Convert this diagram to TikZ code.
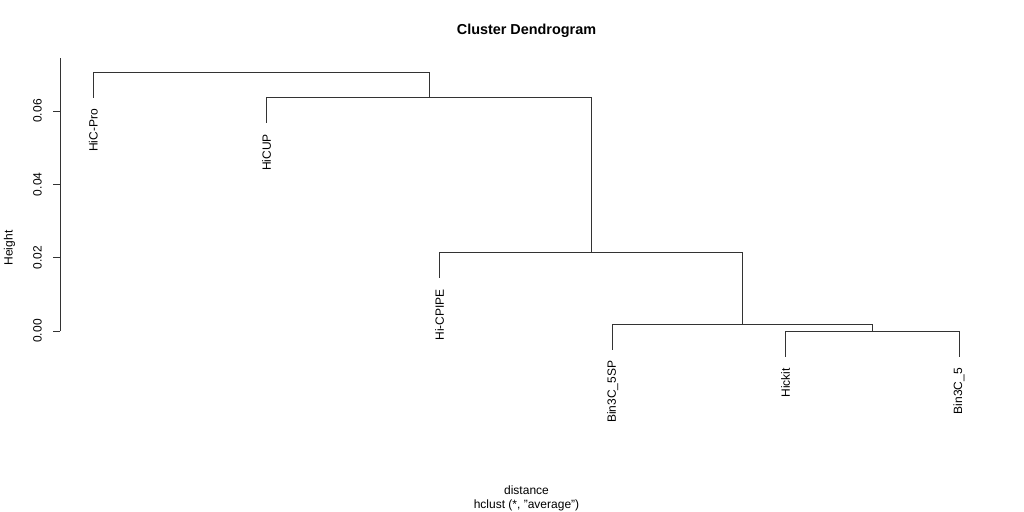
\documentclass[tikz,border=0pt]{standalone}
\usepackage{fontspec}
\setmainfont{Liberation Sans}
\begin{document}
\begin{tikzpicture}[x=1bp,y=-1bp,font=\fontsize{12bp}{14bp}\selectfont,
	branch/.style={black!80,line width=0.8bp},
	leaf/.style={rotate=90,anchor=east,inner sep=0pt},
	ticklab/.style={rotate=90,inner sep=0pt}]
	\useasboundingbox (0,0) rectangle (1024,512);
	\node[anchor=base,font=\fontsize{14.4bp}{17bp}\selectfont\bfseries] (title) at (526.5,35) {Cluster Dendrogram};
	\draw[branch] (60,331)--(60,58.5);
	\foreach \v in {0,2,4,6}
	     		{\draw[branch] (60,331-36.667*\v)--++(-7,0);
	     		\node[ticklab] (tick\v) at (37.5,331-36.667*\v) {0.0\v};}
	\node[ticklab] (ylab) at (9.5,248) {Height};
	\foreach \n/\x/\y/\t in {hicpro/93.4/98/HiC-Pro,hicup/266.7/123/HiCUP,hicpipe/439.7/278/Hi-CPIPE,binsp/612.7/349.6/Bin3C\_5SP,hickit/785.7/357/Hickit,binfive/959/357/Bin3C\_5}
	     		{\coordinate (\n) at (\x,\y);
	     		\node[leaf] (\n-lab) at (\x,\y+11) {\t};}
	\coordinate (m5) at (872.3,331.7);
	\coordinate (m4) at (742.7,324.3);
	\coordinate (m3) at (591.2,252.7);
	\coordinate (m2) at (429,97.7);
	\coordinate (m1) at (261.2,72.7);
	\draw[branch] (hickit) |- (m5) -| (binfive);
	\draw[branch] (binsp) |- (m4) -| (m5);
	\draw[branch] (hicpipe) |- (m3) -| (m4);
	\draw[branch] (hicup) |- (m2) -| (m3);
	\draw[branch] (hicpro) |- (m1) -| (m2);
	\node[anchor=base] (xlab) at (526.5,494) {distance};
	\node[anchor=base] (sub) at (526.5,508) {hclust (*, "average")};
\end{tikzpicture}
\end{document}
